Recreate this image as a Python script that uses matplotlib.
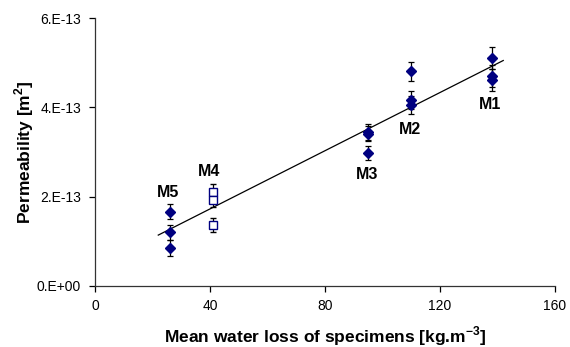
import matplotlib
matplotlib.use("Agg")
import matplotlib.pyplot as plt
import numpy as np

plt.rcParams['font.family'] = ['Liberation Sans', 'DejaVu Sans']
plt.rcParams['mathtext.fontset'] = 'custom'
plt.rcParams['mathtext.rm'] = 'Liberation Sans'
plt.rcParams['mathtext.bf'] = 'Liberation Sans:bold'

# mittaukset, permeabiliteetti yksikössä 1e-13 m2
x_taysi = np.array([26, 26, 26, 95, 95, 95, 110, 110, 110, 138, 138, 138])
y_taysi = np.array([1.66, 1.20, 0.84, 3.45, 3.41, 2.97, 4.81, 4.17, 4.06, 5.11, 4.71, 4.62])
e_taysi = np.array([0.17, 0.17, 0.18, 0.17, 0.17, 0.16, 0.21, 0.20, 0.20, 0.25, 0.24, 0.24])

x_ontto = np.array([41, 41, 41])
y_ontto = np.array([2.11, 1.93, 1.36])
e_ontto = np.array([0.16, 0.16, 0.15])

sarjat = ["M1", "M2", "M3", "M4", "M5"]
ytikit = [0, 2, 4, 6]
ytekstit = ["0.E+00", "2.E-13", "4.E-13", "6.E-13"]
xtikit = [0, 40, 80, 120, 160]

sini = "#000080"

fig = plt.figure(figsize=(5.7, 3.47), dpi=100)
ax = fig.add_axes([0.1667, 0.177, 0.807, 0.77])

ax.errorbar(x_taysi, y_taysi, yerr=e_taysi, fmt='D', ms=4.8, color=sini,
            mec=sini, ecolor='black', elinewidth=0.9, capsize=2.2, capthick=0.9, zorder=3)
ax.errorbar(x_ontto, y_ontto, yerr=e_ontto, fmt='s', ms=5.5, mfc='white',
            mec=sini, mew=1.0, ecolor='black', elinewidth=0.9, capsize=2.2, capthick=0.9, zorder=3)

# lineaarinen sovite kaikista pisteistä
kaikki_x = np.concatenate([x_taysi, x_ontto])
kaikki_y = np.concatenate([y_taysi, y_ontto])
k, b = np.polyfit(kaikki_x, kaikki_y, 1)
xs = np.array([22, 142])
ax.plot(xs, k*xs + b, color='black', lw=0.9, zorder=2)

paikat = [(137.4, 4.06), (109.6, 3.51), (94.5, 2.49), (39.8, 2.56), (25.5, 2.09)]
for nimi, (px, py) in zip(sarjat, paikat):
    ax.text(px, py, nimi, fontsize=11.5, fontweight='bold', ha='center', va='center')

ax.set_xlim(0, 160)
ax.set_ylim(0, 6)
ax.set_xticks(xtikit)
ax.set_yticks(ytikit)
ax.set_yticklabels(ytekstit)
ax.tick_params(direction='out', length=4, width=0.9, labelsize=10, colors='black')
ax.tick_params(axis='y', pad=6)
ax.tick_params(axis='x', pad=6)
for s in ('top', 'right'):
    ax.spines[s].set_visible(False)
for s in ('left', 'bottom'):
    ax.spines[s].set_linewidth(0.9)
    ax.spines[s].set_color('#333333')

ax.set_xlabel("Mean water loss of specimens [kg.m$^{\\mathbf{-3}}$]", fontsize=12.5, fontweight='bold', labelpad=8)
ax.set_ylabel("Permeability [m$^{\\mathbf{2}}$]", fontsize=12.5, fontweight='bold', labelpad=0.5)

plt.savefig("out.png", dpi=100)
